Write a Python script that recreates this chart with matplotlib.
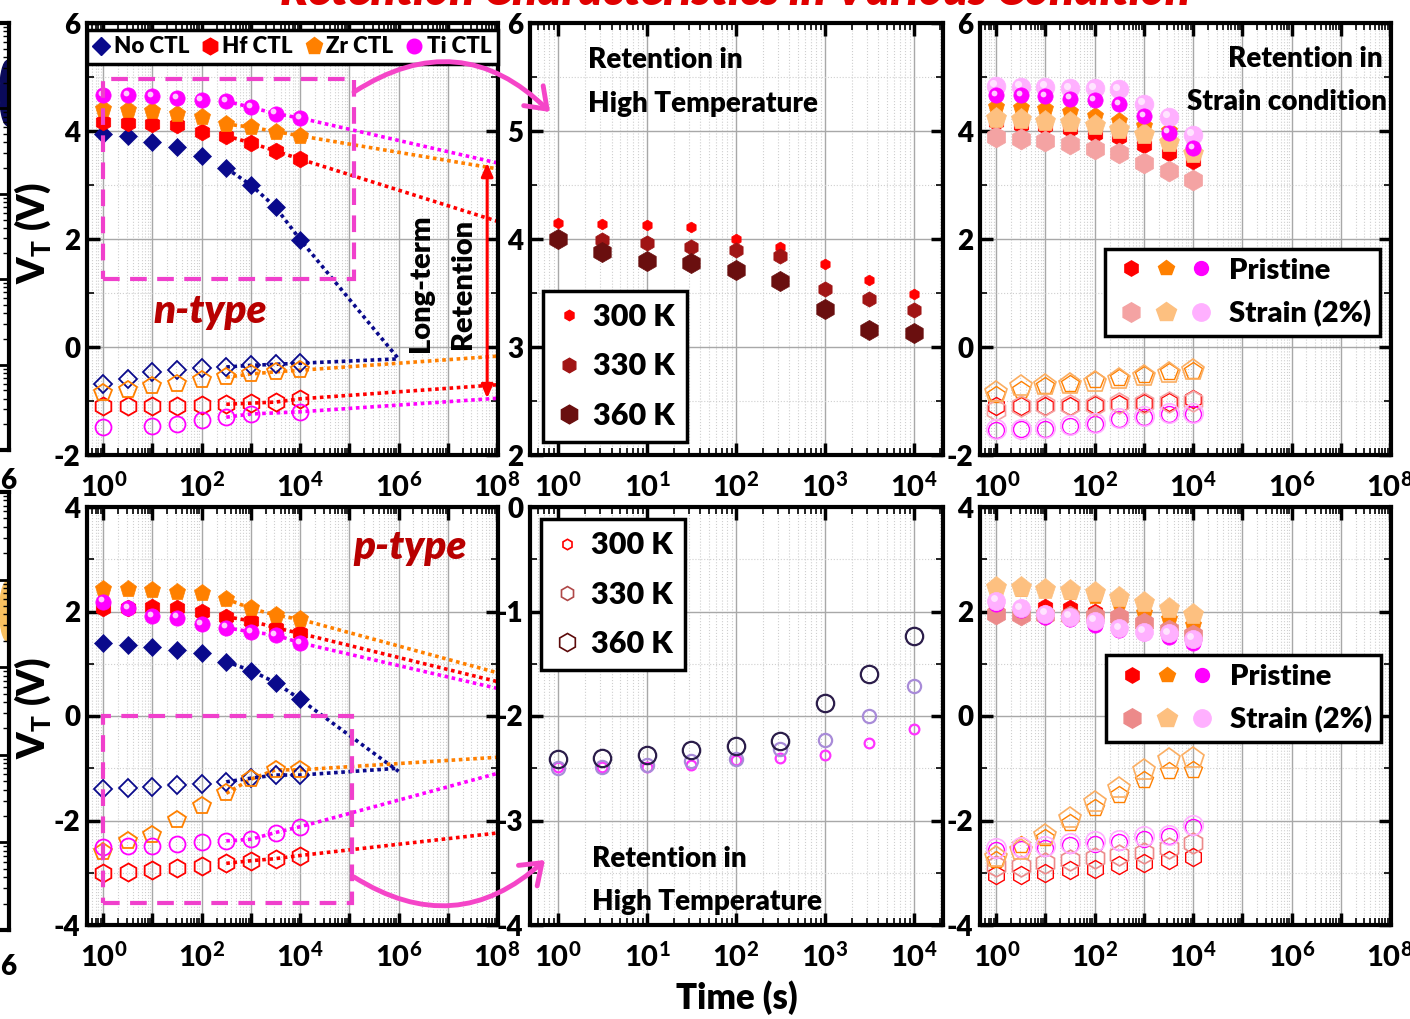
import matplotlib
matplotlib.use('Agg')
import matplotlib.pyplot as plt
import numpy as np
from matplotlib.ticker import LogLocator, FuncFormatter, MultipleLocator, NullFormatter
from matplotlib.patches import Rectangle, FancyArrowPatch, Ellipse
from matplotlib.lines import Line2D
from matplotlib.legend_handler import HandlerTuple
from matplotlib.transforms import ScaledTranslation

plt.rcParams['font.family'] = ['Lato', 'DejaVu Sans']
plt.rcParams['font.weight'] = 'heavy'
plt.rcParams['mathtext.fontset'] = 'custom'
plt.rcParams['mathtext.bf'] = 'Lato:black'
plt.rcParams['mathtext.rm'] = 'Lato:black'
plt.rcParams['axes.unicode_minus'] = False

# ---------------- data ----------------
t = [1, 3.16, 10, 31.6, 100, 316, 1000, 3160, 10000]
nan = np.nan

# n-type, program / erase states
n_noctl_prg = [3.95, 3.90, 3.79, 3.71, 3.54, 3.31, 3.00, 2.59, 1.99]
n_hf_prg = [4.16, 4.15, 4.13, 4.11, 3.99, 3.91, 3.78, 3.63, 3.48]
n_zr_prg = [4.41, 4.38, 4.37, 4.32, 4.26, 4.13, 4.07, 3.99, 3.91]
n_ti_prg = [4.67, 4.66, 4.65, 4.61, 4.57, 4.55, 4.44, 4.32, 4.24]
n_noctl_ers = [-0.68, -0.59, -0.47, -0.43, -0.38, -0.37, -0.34, -0.32, -0.30]
n_hf_ers = [-1.10, -1.10, -1.09, -1.09, -1.07, -1.06, -1.04, -1.02, -0.96]
n_zr_ers = [-0.86, -0.79, -0.72, -0.68, -0.61, -0.56, -0.50, -0.46, -0.43]
n_ti_ers = [-1.49, nan, -1.46, -1.43, -1.35, -1.30, -1.24, nan, -1.20]
# extrapolated end points (time, VT)
n_noctl_end = [(1e6, -0.22), (1e6, -0.22)]
n_hf_end = [(1e8, 2.33), (1e8, -0.70)]
n_zr_end = [(1e8, 3.30), (1e8, -0.17)]
n_ti_end = [(1e8, 3.41), (1e8, -0.95)]

# p-type, program / erase states
p_noctl_prg = [1.39, 1.36, 1.33, 1.26, 1.20, 1.04, 0.87, 0.64, 0.32]
p_hf_prg = [2.06, 2.06, 2.09, 2.07, 1.99, 1.90, 1.82, 1.69, 1.58]
p_zr_prg = [2.44, 2.44, 2.41, 2.38, 2.35, 2.24, 2.06, 1.93, 1.85]
p_ti_prg = [2.19, 2.06, 1.91, 1.88, 1.76, 1.69, 1.61, 1.55, 1.40]
p_noctl_ers = [-1.40, -1.38, -1.35, -1.32, -1.30, -1.26, -1.19, -1.13, -1.13]
p_hf_ers = [-3.01, -2.98, -2.94, -2.90, -2.88, -2.82, -2.77, -2.73, -2.67]
p_zr_ers = [-2.61, -2.40, -2.28, -1.99, -1.73, -1.48, -1.21, -1.03, -1.03]
p_ti_ers = [-2.50, -2.49, -2.48, -2.45, -2.42, -2.39, -2.36, -2.23, -2.12]
p_noctl_end = [(1e6, -1.06), (1e6, -1.00)]
p_hf_end = [(1e8, 0.66), (1e8, -2.24)]
p_zr_end = [(1e8, 0.83), (1e8, -0.79)]
p_ti_end = [(1e8, 0.53), (1e8, -1.10)]

# high temperature retention
temps = ['300 K', '330 K', '360 K']
ht_n = [[4.15, 4.14, 4.13, 4.11, 4.00, 3.93, 3.77, 3.62, 3.49],
        [4.00, 3.99, 3.96, 3.93, 3.90, 3.84, 3.54, 3.44, 3.34],
        [4.00, 3.88, 3.80, 3.78, 3.71, 3.61, 3.35, 3.16, 3.13]]
ht_p = [[-2.49, -2.49, -2.49, -2.47, -2.42, -2.40, -2.37, -2.26, -2.12],
        [-2.50, -2.49, -2.47, -2.43, -2.41, -2.32, -2.23, -2.00, -1.71],
        [-2.41, -2.40, -2.37, -2.33, -2.29, -2.24, -1.88, -1.60, -1.23]]

# strain condition retention: order Hf, Zr, Ti
sn_pri = [[4.16, 4.12, 4.09, 4.03, 3.95, 3.88, 3.75, 3.60, 3.44],
          [4.45, 4.42, 4.40, 4.35, 4.28, 4.19, 4.09, 4.00, 3.88],
          [4.67, 4.67, 4.64, 4.60, 4.57, 4.50, 4.28, 3.97, 3.68]]
sn_str = [[3.89, 3.86, 3.81, 3.76, 3.67, 3.59, 3.41, 3.26, 3.10],
          [4.25, 4.22, 4.19, 4.16, 4.11, 4.03, 3.94, 3.79, 3.60],
          [4.84, 4.82, 4.81, 4.79, 4.79, 4.77, 4.50, 4.26, 3.93]]
sn_pri_e = [[-1.10, -1.10, -1.09, -1.09, -1.07, -1.06, -1.04, -1.02, -0.96],
            [-0.88, -0.80, -0.73, -0.69, -0.62, -0.57, -0.51, -0.47, -0.44],
            [-1.53, -1.52, -1.51, -1.46, -1.43, -1.34, -1.29, -1.24, -1.24]]
sn_str_e = [[-1.16, -1.10, -1.08, -1.07, -1.07, -1.04, -1.04, -1.01, -1.00],
            [-0.84, -0.73, -0.71, -0.69, -0.64, -0.59, -0.53, -0.48, -0.43],
            [-1.51, -1.51, -1.50, -1.44, -1.41, -1.32, -1.27, -1.22, -1.22]]
sp_pri = [[2.06, 2.06, 2.09, 2.07, 1.99, 1.90, 1.82, 1.69, 1.58],
          [2.44, 2.44, 2.41, 2.38, 2.30, 2.18, 1.98, 1.85, 1.75],
          [2.15, 2.03, 1.90, 1.85, 1.74, 1.64, 1.59, 1.52, 1.39]]
sp_str = [[1.96, 1.93, 1.93, 1.91, 1.91, 1.90, 1.78, 1.64, 1.55],
          [2.46, 2.46, 2.44, 2.41, 2.38, 2.28, 2.19, 2.06, 1.95],
          [2.21, 2.06, 1.96, 1.90, 1.82, 1.68, 1.61, 1.58, 1.47]]
sp_pri_e = [[-3.04, -3.04, -3.01, -2.94, -2.93, -2.85, -2.81, -2.76, -2.69],
            [-2.75, -2.47, -2.34, -2.05, -1.77, -1.51, -1.22, -1.06, -1.03],
            [-2.56, -2.55, -2.52, -2.47, -2.45, -2.42, -2.36, -2.30, -2.12]]
sp_str_e = [[-2.87, -2.88, -2.82, -2.75, -2.72, -2.66, -2.63, -2.53, -2.43],
            [-2.69, -2.56, -2.27, -1.96, -1.64, -1.38, -1.03, -0.83, -0.81],
            [-2.53, -2.50, -2.48, -2.43, -2.40, -2.37, -2.29, -2.27, -2.08]]

# ---------------- colours ----------------
NAVY = '#0a0a8c'
RED = '#ff0000'
ORG = '#ff8000'
MAG = '#ff00ff'
PINK = '#f040cc'
S_RED = ['#f4a3a3', '#ec8a8a']
S_ORG = '#fdc080'
S_MAG = '#ffb0ff'
HT_N = ['#ff0000', '#a01515', '#6a0f0f']
HT_P = ['#ff33ff', '#a88bd8', '#2b1d4a']
HT_LEG = ['#ff0000', '#b04848', '#5c0a0a']

W, H = 1410, 1019
fig = plt.figure(figsize=(W / 100, H / 100), dpi=100)


def fx(px):
    return px / W


def fy(py):
    return 1 - py / H


def ftext(x, y, s, **kw):
    fig.text(fx(x), fy(y), s, **kw)


def style(ax, ylo, yhi, ymaj, ymin, xlo, xhi, every):
    ax.set_xscale('log')
    ax.set_xlim(xlo, xhi)
    ax.set_ylim(ylo, yhi)
    ax.xaxis.set_major_locator(LogLocator(base=10, numticks=30))
    ax.xaxis.set_minor_locator(LogLocator(base=10, subs=np.arange(2, 10), numticks=200))
    ax.xaxis.set_minor_formatter(NullFormatter())

    def xfmt(v, p):
        e = int(round(np.log10(v)))
        return r'$\mathbf{10^{%d}}$' % e if e % every == 0 else ''
    ax.xaxis.set_major_formatter(FuncFormatter(xfmt))
    ax.yaxis.set_major_locator(MultipleLocator(ymaj))
    ax.yaxis.set_minor_locator(MultipleLocator(ymin))
    ax.yaxis.set_major_formatter(FuncFormatter(lambda v, p: '%d' % round(v)))
    ax.grid(which='major', color='#a8a8a8', lw=1.0)
    ax.grid(which='minor', color='#cfcfcf', lw=0.8, ls=':')
    ax.set_axisbelow(True)
    ax.tick_params(which='both', direction='in', top=True, right=True)
    ax.tick_params(axis='x', which='major', pad=12, labelsize=21)
    ax.tick_params(axis='y', which='major', pad=5, labelsize=20)
    ax.tick_params(which='major', length=9, width=2.5)
    ax.tick_params(which='minor', length=5, width=1.2)
    for s in ax.spines.values():
        s.set_linewidth(3)


def pts(ax, y, marker, ms, color, filled=True, z=3, mew=1.3):
    if filled:
        ax.plot(t, y, ls='none', marker=marker, ms=ms, mfc=color, mec=color, mew=0.5, zorder=z)
    else:
        ax.plot(t, y, ls='none', marker=marker, ms=ms, mfc='none', mec=color, mew=mew, zorder=z)


def sphere(ax, y, ms, color, shine, z=3):
    ax.plot(t, y, ls='none', marker='o', ms=ms, mfc=color, mec=color, mew=0.5, zorder=z)
    off = ScaledTranslation(-ms * 0.15 / 72, ms * 0.15 / 72, fig.dpi_scale_trans)
    ax.plot(t, y, ls='none', marker='o', ms=ms * 0.38, mfc=shine, mec='none',
            zorder=z + 0.1, transform=ax.transData + off)


def trend(ax, y, end, color):
    xs = [tt for tt, v in zip(t[5:], y[5:]) if not np.isnan(v)] + [end[0]]
    ys = [v for v in y[5:] if not np.isnan(v)] + [end[1]]
    ax.plot(xs, ys, ls=(0, (1, 1)), lw=2.6, color=color, zorder=2)


def frame(leg):
    leg.get_frame().set_linewidth(2.5)
    leg.get_frame().set_edgecolor('black')


# ---------------- axes ----------------
ax1 = fig.add_axes([fx(87), fy(455), 411 / W, 432 / H])
ax2 = fig.add_axes([fx(530), fy(455), 413 / W, 432 / H])
ax3 = fig.add_axes([fx(980), fy(455), 411 / W, 432 / H])
ax4 = fig.add_axes([fx(87), fy(925), 411 / W, 418 / H])
ax5 = fig.add_axes([fx(530), fy(925), 413 / W, 418 / H])
ax6 = fig.add_axes([fx(980), fy(925), 411 / W, 418 / H])

XL = (10 ** -0.33, 10 ** 8.02)
XS = (10 ** -0.315, 10 ** 4.33)
style(ax1, -2, 6, 2, 1, *XL, 2)
style(ax2, 2, 6, 1, 0.5, *XS, 1)
style(ax3, -2, 6, 2, 1, *XL, 2)
style(ax4, -4, 4, 2, 1, *XL, 2)
style(ax5, -4, 0, 1, 0.5, *XS, 1)
style(ax6, -4, 4, 2, 1, *XL, 2)

# partial neighbouring panels at the left edge
for top, bot, blob_y, blob_h, blob_c in [(23, 450, 0.836, 0.152, '#0a0a5a'),
                                          (492, 930, 0.728, 0.137, '#f8c060')]:
    axl = fig.add_axes([fx(-300), fy(bot), 309 / W, (bot - top) / H])
    axl.set_yscale('log')
    axl.set_ylim(1, 1e5)
    axl.set_xticks([])
    axl.yaxis.set_ticks_position('right')
    axl.tick_params(which='both', direction='in', labelright=False)
    axl.tick_params(which='major', length=8, width=2)
    axl.tick_params(which='minor', length=4, width=1)
    for s in axl.spines.values():
        s.set_linewidth(3)
    axl.add_patch(Ellipse((0.995, blob_y), 0.05, blob_h, transform=axl.transAxes,
                          color=blob_c))
ftext(8, 481, '6', fontsize=20, ha='center', va='center')
ftext(8, 967, '6', fontsize=20, ha='center', va='center')

# ---------------- n-type ----------------
for y, end, c in [(n_noctl_prg, n_noctl_end[0], NAVY), (n_hf_prg, n_hf_end[0], RED),
                  (n_zr_prg, n_zr_end[0], ORG), (n_ti_prg, n_ti_end[0], MAG),
                  (n_noctl_ers, n_noctl_end[1], NAVY), (n_hf_ers, n_hf_end[1], RED),
                  (n_zr_ers, n_zr_end[1], ORG), (n_ti_ers, n_ti_end[1], MAG)]:
    trend(ax1, y, end, c)
pts(ax1, n_noctl_prg, 'D', 9, NAVY)
pts(ax1, n_hf_prg, 'h', 12, RED)
pts(ax1, n_zr_prg, 'p', 12.5, ORG)
sphere(ax1, n_ti_prg, 11, MAG, '#ffc8ff')
pts(ax1, n_noctl_ers, 'D', 9, NAVY, False)
pts(ax1, n_hf_ers, 'h', 13, RED, False)
pts(ax1, n_zr_ers, 'p', 13, ORG, False)
pts(ax1, n_ti_ers, 'o', 11.5, MAG, False)

ax1.add_patch(Rectangle((1, 1.26), 10 ** 5.09 - 1, 4.97 - 1.26, fill=False,
                        ec=PINK, lw=3, ls=(0, (4, 2.5)), zorder=5))
ax1.annotate('', xy=(10 ** 7.8, 3.41), xytext=(10 ** 7.8, -0.95),
             arrowprops=dict(arrowstyle='<|-|>,head_length=0.8,head_width=0.35',
                             color=RED, lw=2.2, shrinkA=0, shrinkB=0), zorder=6)

h1 = [Line2D([], [], ls='none', marker='D', ms=9, color=NAVY),
      Line2D([], [], ls='none', marker='h', ms=12, color=RED),
      Line2D([], [], ls='none', marker='p', ms=12.5, color=ORG),
      Line2D([], [], ls='none', marker='o', ms=10.5, color=MAG)]
leg1 = ax1.legend(h1, ['No CTL', 'Hf CTL', 'Zr CTL', 'Ti CTL'], ncol=4, loc='lower left',
                  bbox_to_anchor=(0, 0.905, 1, 0.095), mode='expand', borderaxespad=0,
                  handlelength=0.7, handletextpad=0.2, columnspacing=0.0, fontsize=16,
                  fancybox=False, framealpha=1, borderpad=0.3)
frame(leg1)
leg1.set_zorder(10)

ftext(210, 312, 'n-type', fontsize=29, color='#b80000', style='italic',
      ha='center', va='center')
ftext(421, 283, 'Long-term', fontsize=21, rotation=90, ha='center', va='center')
ftext(463, 284, 'Retention', fontsize=21, rotation=90, ha='center', va='center')

# ---------------- high temperature, n-type ----------------
for y, c, ms in zip(ht_n, HT_N, [7.7, 11, 14.5]):
    pts(ax2, y, 'h', ms, c)
h2 = [Line2D([], [], ls='none', marker='h', ms=ms, color=c)
      for c, ms in zip(HT_N, [7.5, 10.5, 13.5])]
leg2 = ax2.legend(h2, temps, loc='lower left', bbox_to_anchor=(0.031, 0.03),
                  borderaxespad=0, fontsize=22, handlelength=0.9, handletextpad=0.35,
                  labelspacing=0.7, borderpad=0.4, fancybox=False, framealpha=1)
frame(leg2)
ftext(588, 68, 'Retention in', fontsize=20, va='baseline')
ftext(588, 112, 'High Temperature', fontsize=20, va='baseline')

# ---------------- strain, n-type ----------------
pts(ax3, sn_pri[0], 'h', 12, RED, z=3)
pts(ax3, sn_pri[1], 'p', 12.5, ORG, z=3.2)
pts(ax3, sn_str[0], 'h', 15, S_RED[0], z=3.4)
pts(ax3, sn_str[1], 'p', 15.5, S_ORG, z=3.6)
sphere(ax3, sn_str[2], 13.5, S_MAG, '#ffe4ff', z=3.8)
sphere(ax3, sn_pri[2], 11, MAG, '#ffc8ff', z=4.2)
pts(ax3, sn_pri_e[0], 'h', 13, RED, False, mew=1.0)
pts(ax3, sn_pri_e[1], 'p', 13, ORG, False, mew=1.0)
pts(ax3, sn_pri_e[2], 'o', 11.5, MAG, False, mew=1.0)
pts(ax3, sn_str_e[0], 'h', 15, S_RED[0], False, mew=1.2)
pts(ax3, sn_str_e[1], 'p', 16, '#fbae62', False, mew=1.2)
pts(ax3, sn_str_e[2], 'o', 14, S_MAG, False, mew=1.2)


def strain_legend(ax, anchor, scol):
    pri = (Line2D([], [], ls='none', marker='h', ms=11, color=RED),
           Line2D([], [], ls='none', marker='p', ms=11.5, color=ORG),
           Line2D([], [], ls='none', marker='o', ms=10, color=MAG))
    stn = (Line2D([], [], ls='none', marker='h', ms=14, color=scol),
           Line2D([], [], ls='none', marker='p', ms=14.5, color=S_ORG),
           Line2D([], [], ls='none', marker='o', ms=12.5, color=S_MAG))
    leg = ax.legend([pri, stn], ['Pristine', 'Strain (2%)'], loc='upper right',
                    bbox_to_anchor=anchor, borderaxespad=0,
                    handler_map={tuple: HandlerTuple(ndivide=None, pad=0)},
                    handlelength=3.6, handletextpad=0.35, labelspacing=0.55,
                    borderpad=0.3, fontsize=21, fancybox=False, framealpha=1)
    frame(leg)


strain_legend(ax3, (0.973, 0.477), S_RED[0])
ftext(1383, 67, 'Retention in', fontsize=20, ha='right', va='baseline')
ftext(1387, 110, 'Strain condition', fontsize=20, ha='right', va='baseline')

# ---------------- p-type ----------------
for y, end, c in [(p_noctl_prg, p_noctl_end[0], NAVY), (p_hf_prg, p_hf_end[0], RED),
                  (p_zr_prg, p_zr_end[0], ORG), (p_ti_prg, p_ti_end[0], MAG),
                  (p_noctl_ers, p_noctl_end[1], NAVY), (p_hf_ers, p_hf_end[1], RED),
                  (p_zr_ers, p_zr_end[1], ORG), (p_ti_ers, p_ti_end[1], MAG)]:
    trend(ax4, y, end, c)
pts(ax4, p_noctl_prg, 'D', 9, NAVY)
pts(ax4, p_hf_prg, 'h', 12, RED)
pts(ax4, p_zr_prg, 'p', 12.5, ORG)
sphere(ax4, p_ti_prg, 11, MAG, '#ffc8ff')
pts(ax4, p_noctl_ers, 'D', 9, NAVY, False)
pts(ax4, p_hf_ers, 'h', 13, RED, False)
pts(ax4, p_zr_ers, 'p', 13, ORG, False)
pts(ax4, p_ti_ers, 'o', 11.5, MAG, False)
ax4.add_patch(Rectangle((1, -3.57), 10 ** 5.06 - 1, 3.57, fill=False,
                        ec=PINK, lw=3, ls=(0, (4, 2.5)), zorder=5))
ftext(410, 547, 'p-type', fontsize=29, color='#b80000', style='italic',
      ha='center', va='center')

# ---------------- high temperature, p-type ----------------
for y, c, ms in zip(ht_p, HT_P, [7, 9.5, 12.5]):
    pts(ax5, y, 'o', ms, c, False, mew=1.6)
h5 = [Line2D([], [], ls='none', marker='h', ms=ms, mfc='none', mec=c, mew=1.2)
      for c, ms in zip(HT_LEG, [7.5, 10, 13])]
leg5 = ax5.legend(h5, temps, loc='upper left', bbox_to_anchor=(0.026, 0.971),
                  borderaxespad=0, fontsize=22, handlelength=0.9, handletextpad=0.35,
                  labelspacing=0.7, borderpad=0.4, fancybox=False, framealpha=1)
frame(leg5)
ftext(592, 867, 'Retention in', fontsize=20, va='baseline')
ftext(592, 910, 'High Temperature', fontsize=20, va='baseline')

# ---------------- strain, p-type ----------------
pts(ax6, sp_pri[0], 'h', 12, RED, z=3)
pts(ax6, sp_pri[1], 'p', 12.5, ORG, z=3.2)
pts(ax6, sp_str[0], 'h', 15, S_RED[1], z=3.4)
pts(ax6, sp_str[1], 'p', 15.5, S_ORG, z=3.6)
sphere(ax6, sp_pri[2], 11, MAG, '#ffc8ff', z=3.8)
sphere(ax6, sp_str[2], 13, S_MAG, '#ffe4ff', z=4.2)
pts(ax6, sp_pri_e[0], 'h', 13, RED, False, mew=1.0)
pts(ax6, sp_pri_e[1], 'p', 13, ORG, False, mew=1.0)
pts(ax6, sp_pri_e[2], 'o', 11.5, MAG, False, mew=1.0)
pts(ax6, sp_str_e[0], 'h', 15, S_RED[1], False, mew=1.2)
pts(ax6, sp_str_e[1], 'p', 16, '#fbae62', False, mew=1.2)
pts(ax6, sp_str_e[2], 'o', 14, S_MAG, False, mew=1.2)
strain_legend(ax6, (0.975, 0.646), S_RED[1])

# ---------------- labels, arrows, title ----------------
for yc in [233, 708]:
    ftext(33, yc, r'V$_{\mathbf{T}}$ (V)', fontsize=27, rotation=90, ha='center', va='center')
ftext(737, 998, 'Time (s)', fontsize=25, ha='center', va='center')
ftext(735, 5, 'Retention Characteristics in Various Condition', fontsize=33,
      color='#e00000', style='italic', ha='center', va='baseline')

for a, b, rad in [((354, 92), (550, 112), -0.4), ((354, 877), (545, 860), 0.38)]:
    arr = FancyArrowPatch((fx(a[0]), fy(a[1])), (fx(b[0]), fy(b[1])),
                          transform=fig.transFigure, connectionstyle='arc3,rad=%s' % rad,
                          arrowstyle='->,head_length=0.55,head_width=0.4', mutation_scale=25,
                          lw=3.5, color='#f545c8', shrinkA=0, shrinkB=0, zorder=20)
    fig.add_artist(arr)

fig.savefig('out.png', dpi=100)
